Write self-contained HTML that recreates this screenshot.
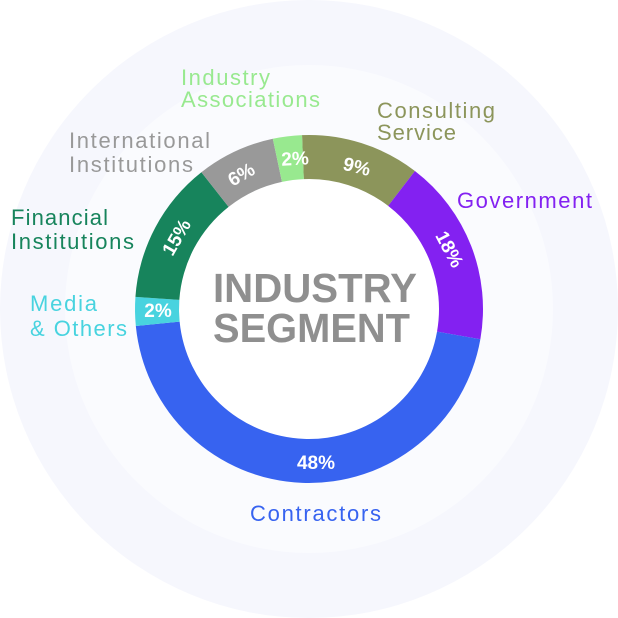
<!DOCTYPE html>
<html><head><meta charset="utf-8"><style>
html,body{margin:0;padding:0;background:#fff;}
svg{display:block;}
.l{font-family:"Liberation Sans",sans-serif;font-size:22px;}
.p{font-family:"Liberation Sans",sans-serif;font-size:19px;font-weight:bold;fill:#fff;text-anchor:middle;}
.c{font-family:"Liberation Sans",sans-serif;font-size:41px;font-weight:bold;fill:#8f8f8f;}
</style></head><body>
<svg id="s" width="618" height="618" viewBox="0 0 618 618">
<circle cx="309" cy="309" r="309" fill="#f6f7fd"/>
<circle cx="309" cy="309" r="244" fill="#fafbfe"/>
<circle cx="309" cy="309" r="130" fill="#fff"/>
<g id="ring"></g>
<text class="c" x="213" y="302" textLength="204" lengthAdjust="spacingAndGlyphs">INDUSTRY</text>
<text class="c" x="213" y="342" textLength="197" lengthAdjust="spacingAndGlyphs">SEGMENT</text>
<text class="p" transform="translate(316,469)">48%</text>
<text class="p" transform="translate(450,249) rotate(62)" dy="7">18%</text>
<text class="p" transform="translate(357,166) rotate(14)" dy="7">9%</text>
<text class="p" transform="translate(295,158) rotate(-3)" dy="7">2%</text>
<text class="p" transform="translate(241,174) rotate(-30)" dy="7">6%</text>
<text class="p" transform="translate(176,237) rotate(-60)" dy="7">15%</text>
<text class="p" transform="translate(158,310)" dy="7">2%</text>
<text class="l" fill="#98e98f" x="181" y="85" textLength="89">Industry</text>
<text class="l" fill="#98e98f" x="181" y="107" textLength="139">Associations</text>
<text class="l" fill="#8c955b" x="377" y="118" textLength="118">Consulting</text>
<text class="l" fill="#8c955b" x="377" y="140" textLength="79">Service</text>
<text class="l" fill="#999999" x="69" y="148" textLength="141">International</text>
<text class="l" fill="#999999" x="69" y="172" textLength="124">Institutions</text>
<text class="l" fill="#8321f1" x="457" y="208" textLength="135">Government</text>
<text class="l" fill="#17845c" x="11" y="225" textLength="97">Financial</text>
<text class="l" fill="#17845c" x="11" y="249" textLength="123">Institutions</text>
<text class="l" fill="#48d3df" x="30" y="311" textLength="67">Media</text>
<text class="l" fill="#48d3df" x="30" y="336" textLength="97">&amp; Others</text>
<text class="l" fill="#3763f0" x="250" y="521" textLength="131">Contractors</text>
</svg>
<script>
var segs=[[-2.3,37.5,"#8c955b"],[37.5,100,"#8321f1"],[100,264.4,"#3763f0"],[264.4,274,"#48d3df"],[274,321.8,"#17845c"],[321.8,348,"#999999"],[348,357.7,"#98e98f"]];
var cx=309,cy=309,R=174,r=130,h="";
function pt(a,rad){a=a*Math.PI/180;return [cx+rad*Math.sin(a),cy-rad*Math.cos(a)];}
segs.forEach(function(s){var a=s[0],b=s[1],lg=(b-a)>180?1:0;
var p1=pt(a,R),p2=pt(b,R),p3=pt(b,r),p4=pt(a,r);
h+='<path fill="'+s[2]+'" d="M'+p1+' A'+R+','+R+' 0 '+lg+' 1 '+p2+' L'+p3+' A'+r+','+r+' 0 '+lg+' 0 '+p4+' Z"/>';});
document.getElementById("ring").innerHTML=h;
</script>
</body></html>
